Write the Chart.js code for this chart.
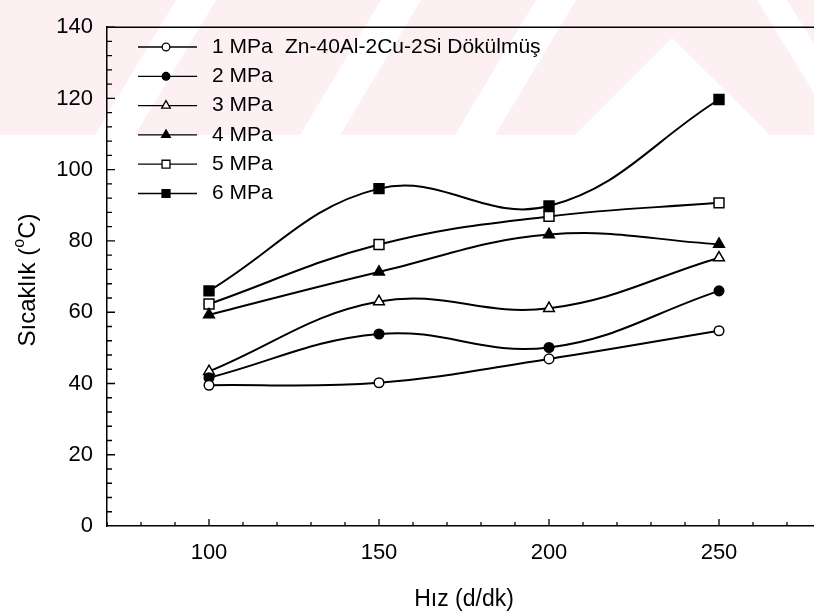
<!DOCTYPE html>
<html lang="tr">
<head>
<meta charset="UTF-8">
<title>Sıcaklık - Hız</title>
<script src="https://cdn.jsdelivr.net/npm/chart.js"></script>
<style>
  html, body { margin: 0; padding: 0; background: #fff; overflow: hidden; }
  #wrap { width: 814px; height: 615px; overflow: hidden; }
</style>
</head>
<body>
<div id="wrap"><canvas id="tempChart" width="830" height="615"></canvas></div>
<script>
// speed (d/dk) on x, temperature (oC) on y
const speeds = [100, 150, 200, 250];
const p1MPa = [39.5, 40.2, 46.9, 54.8];
const p2MPa = [41.6, 53.9, 50.1, 66.0];
const p3MPa = [43.4, 63.0, 61.1, 75.3];
const p4MPa = [59.3, 71.3, 81.8, 79.1];
const p5MPa = [62.3, 79.0, 86.9, 90.7];
const p6MPa = [66.0, 94.7, 89.8, 119.7];
const seriesLabels = ['1 MPa', '2 MPa', '3 MPa', '4 MPa', '5 MPa', '6 MPa'];
const seriesValues = [p1MPa, p2MPa, p3MPa, p4MPa, p5MPa, p6MPa];
const xTickValues = [100, 150, 200, 250];
const yTickValues = [0, 20, 40, 60, 80, 100, 120, 140];
const alloyNote = 'Zn-40Al-2Cu-2Si Dökülmüş';

const markerStyle = ['circle', 'circle', 'triangle', 'triangle', 'rect', 'rect'];
const markerFilled = [false, true, false, true, false, true];
const markerSize = [4.8, 4.8, 6.2, 6.2, 7, 7];

const datasets = seriesValues.map((vals, i) => ({
    label: seriesLabels[i],
    data: speeds.map((s, j) => ({ x: s, y: vals[j] })),
    borderColor: '#000',
    borderWidth: 2,
    tension: 0.4,
    pointStyle: markerStyle[i],
    pointRadius: markerSize[i],
    pointBackgroundColor: markerFilled[i] ? '#000' : '#fff',
    pointBorderColor: '#000',
    pointBorderWidth: 1.5,
    fill: false
}));

// faint pink scan watermark across the top of the page
const watermark = {
    id: 'watermark',
    beforeDraw(chart) {
        const ctx = chart.ctx;
        const h = 135;
        ctx.save();
        ctx.fillStyle = '#fdf0f2';
        ctx.fillRect(0, 0, 830, h);
        ctx.fillStyle = '#fff';
        const poly = pts => {
            ctx.beginPath();
            ctx.moveTo(pts[0][0], pts[0][1]);
            pts.slice(1).forEach(p => ctx.lineTo(p[0], p[1]));
            ctx.closePath();
            ctx.fill();
        };
        [95, 300, 455].forEach(b => {
            poly([[b, h], [b + 40, h], [b + 40 + 0.6 * h, 0], [b + 0.6 * h, 0]]);
        });
        poly([[672, 38], [575, h], [770, h]]);
        poly([[757, 0], [787, 0], [870, h], [840, h]]);
        ctx.restore();
    }
};

// frame top edge + inward ticks (major and minor)
const frameTicks = {
    id: 'frameTicks',
    afterDraw(chart) {
        const { ctx, chartArea: a, scales: { x, y } } = chart;
        ctx.save();
        ctx.strokeStyle = '#000';
        ctx.lineWidth = 1.5;
        ctx.beginPath();
        ctx.moveTo(a.left, a.top);
        ctx.lineTo(a.right, a.top);
        ctx.stroke();
        ctx.lineWidth = 1.3;
        ctx.beginPath();
        for (let v = 70; v <= 280; v += 10) {
            const px = x.getPixelForValue(v);
            const len = v % 50 === 0 ? 7 : 4;
            ctx.moveTo(px, a.bottom);
            ctx.lineTo(px, a.bottom - len);
        }
        for (let v = 4; v <= 140; v += 4) {
            const py = y.getPixelForValue(v);
            const len = v % 20 === 0 ? 8 : 5;
            ctx.moveTo(a.left, py);
            ctx.lineTo(a.left + len, py);
        }
        ctx.stroke();
        ctx.restore();
    }
};

// legend drawn inside the plot, plus the alloy note and y title
const insideLegend = {
    id: 'insideLegend',
    afterDraw(chart) {
        const ctx = chart.ctx;
        ctx.save();
        ctx.font = '21px Arial, "Liberation Sans", sans-serif';
        ctx.textBaseline = 'middle';
        chart.data.datasets.forEach((ds, i) => {
            const yy = 47 + i * 29.3;
            ctx.strokeStyle = '#000';
            ctx.lineWidth = 1.3;
            ctx.beginPath();
            ctx.moveTo(138, yy);
            ctx.lineTo(197, yy);
            ctx.stroke();
            ctx.fillStyle = ds.pointBackgroundColor;
            Chart.helpers.drawPoint(ctx, {
                pointStyle: ds.pointStyle,
                radius: ds.pointRadius * 0.8,
                borderWidth: 1.3,
                rotation: 0
            }, 166, yy);
            ctx.fillStyle = '#000';
            ctx.fillText(ds.label, 212, yy);
        });
        ctx.fillText(alloyNote, 285, 47);

        // y axis title with superscript o
        const big = '24px Arial, "Liberation Sans", sans-serif';
        const small = '16px Arial, "Liberation Sans", sans-serif';
        const partA = 'Sıcaklık (', partB = 'o', partC = 'C)';
        ctx.font = big;
        const wa = ctx.measureText(partA).width;
        const wc = ctx.measureText(partC).width;
        ctx.font = small;
        const wb = ctx.measureText(partB).width;
        const total = wa + wb + wc;
        ctx.translate(28, 280);
        ctx.rotate(-Math.PI / 2);
        let sx = -total / 2;
        ctx.font = big;
        ctx.fillText(partA, sx, 0);
        ctx.font = small;
        ctx.fillText(partB, sx + wa, -8);
        ctx.font = big;
        ctx.fillText(partC, sx + wa + wb, 0);
        ctx.restore();
    }
};

const ctx = document.getElementById('tempChart').getContext('2d');
const chart = new Chart(ctx, {
    type: 'line',
    data: { datasets },
    options: {
        responsive: false,
        animation: false,
        layout: { padding: { top: 18, right: 9, left: 0, bottom: 0 } },
        plugins: { legend: { display: false }, tooltip: { enabled: false } },
        scales: {
            x: {
                type: 'linear',
                min: 70,
                max: 280,
                afterBuildTicks: s => { s.ticks = xTickValues.map(v => ({ value: v })); },
                afterFit: s => { s.height = 89; },
                grid: { display: true, drawOnChartArea: false, drawTicks: false },
                border: { display: true, color: '#000', width: 1.5 },
                ticks: { color: '#000', padding: 14, maxRotation: 0,
                         font: { family: 'Arial, "Liberation Sans", sans-serif', size: 22 } },
                title: { display: true, text: 'Hız (d/dk)', color: '#000',
                         padding: { top: 0, bottom: 2 },
                         font: { family: 'Arial, "Liberation Sans", sans-serif', size: 23 } }
            },
            y: {
                min: 0,
                max: 140,
                afterBuildTicks: s => { s.ticks = yTickValues.map(v => ({ value: v })); },
                afterFit: s => { s.width = 107; },
                grid: { display: true, drawOnChartArea: false, drawTicks: false },
                border: { display: true, color: '#000', width: 1.5 },
                ticks: { color: '#000', padding: 14,
                         font: { family: 'Arial, "Liberation Sans", sans-serif', size: 22 } }
            }
        }
    },
    plugins: [watermark, frameTicks, insideLegend]
});
</script>
</body>
</html>
